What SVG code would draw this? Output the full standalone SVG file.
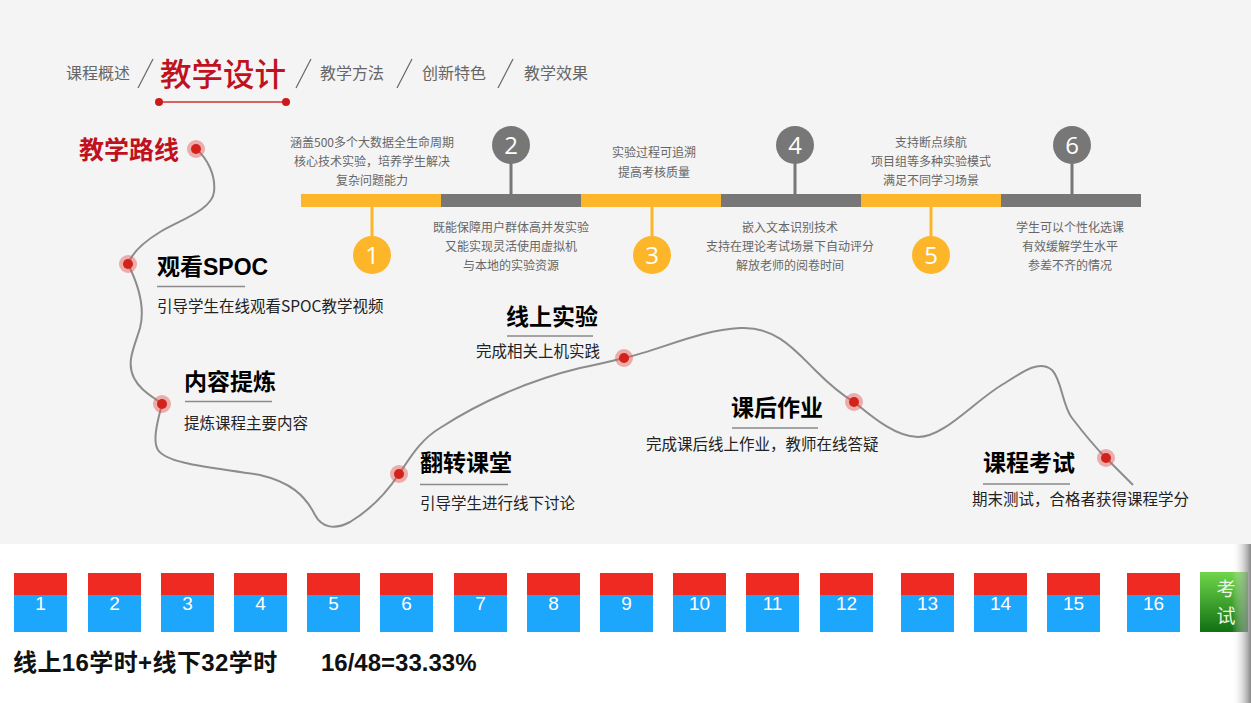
<svg xmlns="http://www.w3.org/2000/svg" width="1251" height="703" viewBox="0 0 1251 703">
<defs>
<linearGradient id="green" x1="0" y1="0" x2="0" y2="1">
<stop offset="0" stop-color="#6fd64b"/><stop offset="1" stop-color="#117012"/>
</linearGradient>
<linearGradient id="shade" x1="0" y1="0" x2="1" y2="0">
<stop offset="0" stop-color="#ffffff" stop-opacity="0"/><stop offset="1" stop-color="#7a7a7a" stop-opacity="0.9"/>
</linearGradient>
<style>
.cn{font-family:"Noto Sans CJK SC","Liberation Sans",sans-serif}
.nav{font-size:16px;fill:#666}
.sl{stroke:#666;stroke-width:1.2}
.tl{font-size:12px;fill:#666;text-anchor:middle}
.num{font-family:"Open Sans","Noto Sans",sans-serif;font-size:24px;fill:#fff;text-anchor:middle}
.stem{stroke-width:3}
.ttl{font-family:"Liberation Sans","Noto Sans CJK SC",sans-serif;font-size:23px;font-weight:bold;fill:#000}
.sub{font-size:15.5px;fill:#222}
.ul{stroke:#8a8a8a;stroke-width:1.5}
.halo{fill:#e05555;fill-opacity:0.45}
.dot{fill:#d3221a}
.red{fill:#ee2a23}
.blue{fill:#1ca6fc}
.bn{font-family:"Liberation Sans",sans-serif;font-size:19px;fill:#fff;text-anchor:middle}
.bt{font-family:"Liberation Sans","Noto Sans CJK SC",sans-serif;font-size:24px;font-weight:bold;fill:#111}
</style>
</defs>
<rect x="0" y="0" width="1251" height="544" fill="#f4f4f4"/>
<rect x="0" y="544" width="1251" height="159" fill="#ffffff"/>

<g id="nav">
<text class="cn nav" x="66" y="79">课程概述</text>
<line class="sl" x1="138" y1="88" x2="153" y2="59"/>
<text class="cn" x="160" y="86" font-size="31.5" font-weight="500" fill="#c0121e">教学设计</text>
<line x1="159" y1="102" x2="286" y2="102" stroke="#cf3030" stroke-width="1.6"/>
<circle cx="159" cy="102" r="4" fill="#cc1a1a"/>
<circle cx="286" cy="102" r="4" fill="#cc1a1a"/>
<line class="sl" x1="296" y1="88" x2="311" y2="59"/>
<text class="cn nav" x="320" y="79">教学方法</text>
<line class="sl" x1="397" y1="88" x2="412" y2="59"/>
<text class="cn nav" x="422" y="79">创新特色</text>
<line class="sl" x1="498" y1="88" x2="513" y2="59"/>
<text class="cn nav" x="524" y="79">教学效果</text>
</g>

<g id="timeline">
<rect x="301" y="194" width="140" height="13" fill="#fdb62a"/>
<rect x="441" y="194" width="140" height="13" fill="#777"/>
<rect x="581" y="194" width="140" height="13" fill="#fdb62a"/>
<rect x="721" y="194" width="140" height="13" fill="#777"/>
<rect x="861" y="194" width="140" height="13" fill="#fdb62a"/>
<rect x="1001" y="194" width="140" height="13" fill="#777"/>
</g>

<g id="step1">
<line class="stem" x1="372" y1="207" x2="372" y2="240" stroke="#fdb62a"/>
<circle cx="372" cy="255" r="19" fill="#fdb62a"/>
<text class="num" x="372" y="264">1</text>
<text class="cn tl" x="372" y="147">涵盖500多个大数据全生命周期</text>
<text class="cn tl" x="372" y="166">核心技术实验，培养学生解决</text>
<text class="cn tl" x="372" y="185">复杂问题能力</text>
</g>
<g id="step2">
<line class="stem" x1="511" y1="160" x2="511" y2="194" stroke="#777"/>
<circle cx="511" cy="145" r="19" fill="#777"/>
<text class="num" x="511" y="154">2</text>
<text class="cn tl" x="511" y="232">既能保障用户群体高并发实验</text>
<text class="cn tl" x="511" y="251">又能实现灵活使用虚拟机</text>
<text class="cn tl" x="511" y="270">与本地的实验资源</text>
</g>
<g id="step3">
<line class="stem" x1="652" y1="207" x2="652" y2="240" stroke="#fdb62a"/>
<circle cx="652" cy="255" r="19" fill="#fdb62a"/>
<text class="num" x="652" y="264">3</text>
<text class="cn tl" x="654" y="157">实验过程可追溯</text>
<text class="cn tl" x="654" y="177">提高考核质量</text>
</g>
<g id="step4">
<line class="stem" x1="795" y1="160" x2="795" y2="194" stroke="#777"/>
<circle cx="795" cy="145" r="19" fill="#777"/>
<text class="num" x="795" y="154">4</text>
<text class="cn tl" x="790" y="232">嵌入文本识别技术</text>
<text class="cn tl" x="790" y="251">支持在理论考试场景下自动评分</text>
<text class="cn tl" x="790" y="270">解放老师的阅卷时间</text>
</g>
<g id="step5">
<line class="stem" x1="931" y1="207" x2="931" y2="240" stroke="#fdb62a"/>
<circle cx="931" cy="255" r="19" fill="#fdb62a"/>
<text class="num" x="931" y="264">5</text>
<text class="cn tl" x="931" y="147">支持断点续航</text>
<text class="cn tl" x="931" y="166">项目组等多种实验模式</text>
<text class="cn tl" x="931" y="185">满足不同学习场景</text>
</g>
<g id="step6">
<line class="stem" x1="1072" y1="160" x2="1072" y2="194" stroke="#777"/>
<circle cx="1072" cy="145" r="19" fill="#777"/>
<text class="num" x="1072" y="154">6</text>
<text class="cn tl" x="1070" y="232">学生可以个性化选课</text>
<text class="cn tl" x="1070" y="251">有效缓解学生水平</text>
<text class="cn tl" x="1070" y="270">参差不齐的情况</text>
</g>

<g id="connectors">
<path d="M196,149 C207,158 216,175 214,192 C212,210 180,220 160,232 C142,243 132,253 128,264 C136,280 146,305 140,328 C134,348 126,362 134,378 C140,390 152,396 162,404 C158,420 152,440 158,450 C168,465 220,468 260,475 C290,482 305,495 315,515 C322,528 335,530 350,522 C370,510 385,495 399,474 C410,458 420,440 440,428 C480,402 530,380 580,368 C600,364 612,361 624,358 C660,350 700,330 740,328 C775,326 795,350 815,370 C830,385 842,395 854,402 C870,415 895,437 918,437 C945,437 975,400 1005,383 C1025,370 1040,360 1052,370 C1062,380 1062,405 1072,418 C1085,435 1095,447 1106,458 L1133,485" fill="none" stroke="#8c8c8c" stroke-width="2"/>
</g>

<g id="start">
<text class="cn" x="79" y="159" font-size="25" font-weight="bold" fill="#c0121e">教学路线</text>
<circle class="halo" cx="196" cy="149" r="9"/><circle class="dot" cx="196" cy="149" r="5"/>
</g>
<g id="spoc">
<circle class="halo" cx="128" cy="264" r="9"/><circle class="dot" cx="128" cy="264" r="5"/>
<text class="ttl" x="157" y="275">观看SPOC</text>
<line class="ul" x1="157" y1="286.5" x2="245" y2="286.5"/>
<text class="cn sub" x="157" y="312">引导学生在线观看SPOC教学视频</text>
</g>
<g id="content">
<circle class="halo" cx="162" cy="404" r="9"/><circle class="dot" cx="162" cy="404" r="5"/>
<text class="ttl" x="184" y="390">内容提炼</text>
<line class="ul" x1="185" y1="401.5" x2="272" y2="401.5"/>
<text class="cn sub" x="184" y="429">提炼课程主要内容</text>
</g>
<g id="flip">
<circle class="halo" cx="399" cy="474" r="9"/><circle class="dot" cx="399" cy="474" r="5"/>
<text class="ttl" x="420" y="471">翻转课堂</text>
<line class="ul" x1="420" y1="484.5" x2="508" y2="484.5"/>
<text class="cn sub" x="420" y="509">引导学生进行线下讨论</text>
</g>
<g id="online">
<circle class="halo" cx="624" cy="358" r="9"/><circle class="dot" cx="624" cy="358" r="5"/>
<text class="ttl" x="506" y="325">线上实验</text>
<line class="ul" x1="507" y1="336" x2="593" y2="336"/>
<text class="cn sub" x="476" y="357">完成相关上机实践</text>
</g>
<g id="homework">
<circle class="halo" cx="854" cy="402" r="9"/><circle class="dot" cx="854" cy="402" r="5"/>
<text class="ttl" x="731" y="416">课后作业</text>
<line class="ul" x1="732" y1="428" x2="818" y2="428"/>
<text class="cn sub" x="646" y="450">完成课后线上作业，教师在线答疑</text>
</g>
<g id="exam">
<circle class="halo" cx="1106" cy="458" r="9"/><circle class="dot" cx="1106" cy="458" r="5"/>
<text class="ttl" x="983" y="471">课程考试</text>
<line class="ul" x1="983" y1="484" x2="1070" y2="484"/>
<text class="cn sub" x="972" y="505">期末测试，合格者获得课程学分</text>
</g>

<g id="weeks">
<g id="w1"><rect class="red" x="14" y="573" width="53" height="22"/><rect class="blue" x="14" y="595" width="53" height="37"/><text class="bn" x="40.5" y="610">1</text></g>
<g id="w2"><rect class="red" x="88" y="573" width="53" height="22"/><rect class="blue" x="88" y="595" width="53" height="37"/><text class="bn" x="114.5" y="610">2</text></g>
<g id="w3"><rect class="red" x="161" y="573" width="53" height="22"/><rect class="blue" x="161" y="595" width="53" height="37"/><text class="bn" x="187.5" y="610">3</text></g>
<g id="w4"><rect class="red" x="234" y="573" width="53" height="22"/><rect class="blue" x="234" y="595" width="53" height="37"/><text class="bn" x="260.5" y="610">4</text></g>
<g id="w5"><rect class="red" x="307" y="573" width="53" height="22"/><rect class="blue" x="307" y="595" width="53" height="37"/><text class="bn" x="333.5" y="610">5</text></g>
<g id="w6"><rect class="red" x="380" y="573" width="53" height="22"/><rect class="blue" x="380" y="595" width="53" height="37"/><text class="bn" x="406.5" y="610">6</text></g>
<g id="w7"><rect class="red" x="454" y="573" width="53" height="22"/><rect class="blue" x="454" y="595" width="53" height="37"/><text class="bn" x="480.5" y="610">7</text></g>
<g id="w8"><rect class="red" x="527" y="573" width="53" height="22"/><rect class="blue" x="527" y="595" width="53" height="37"/><text class="bn" x="553.5" y="610">8</text></g>
<g id="w9"><rect class="red" x="600" y="573" width="53" height="22"/><rect class="blue" x="600" y="595" width="53" height="37"/><text class="bn" x="626.5" y="610">9</text></g>
<g id="w10"><rect class="red" x="673" y="573" width="53" height="22"/><rect class="blue" x="673" y="595" width="53" height="37"/><text class="bn" x="699.5" y="610">10</text></g>
<g id="w11"><rect class="red" x="746" y="573" width="53" height="22"/><rect class="blue" x="746" y="595" width="53" height="37"/><text class="bn" x="772.5" y="610">11</text></g>
<g id="w12"><rect class="red" x="820" y="573" width="53" height="22"/><rect class="blue" x="820" y="595" width="53" height="37"/><text class="bn" x="846.5" y="610">12</text></g>
<g id="w13"><rect class="red" x="901" y="573" width="53" height="22"/><rect class="blue" x="901" y="595" width="53" height="37"/><text class="bn" x="927.5" y="610">13</text></g>
<g id="w14"><rect class="red" x="974" y="573" width="53" height="22"/><rect class="blue" x="974" y="595" width="53" height="37"/><text class="bn" x="1000.5" y="610">14</text></g>
<g id="w15"><rect class="red" x="1047" y="573" width="53" height="22"/><rect class="blue" x="1047" y="595" width="53" height="37"/><text class="bn" x="1073.5" y="610">15</text></g>
<g id="w16"><rect class="red" x="1127" y="573" width="53" height="22"/><rect class="blue" x="1127" y="595" width="53" height="37"/><text class="bn" x="1153.5" y="610">16</text></g>
</g>
<g id="examBox">
<rect x="1200" y="572" width="48" height="60" fill="url(#green)"/>
<text class="cn" x="1226" y="596" font-size="19" fill="#eaf6e4" text-anchor="middle">考</text>
<text class="cn" x="1226" y="623" font-size="19" fill="#eaf6e4" text-anchor="middle">试</text>
</g>
<rect x="1232" y="544" width="19" height="159" fill="url(#shade)"/>

<g id="summary">
<text class="bt" x="13" y="671" letter-spacing="0.4">线上16学时+线下32学时</text>
<text class="bt" x="321" y="671">16/48=33.33%</text>
</g>
</svg>
